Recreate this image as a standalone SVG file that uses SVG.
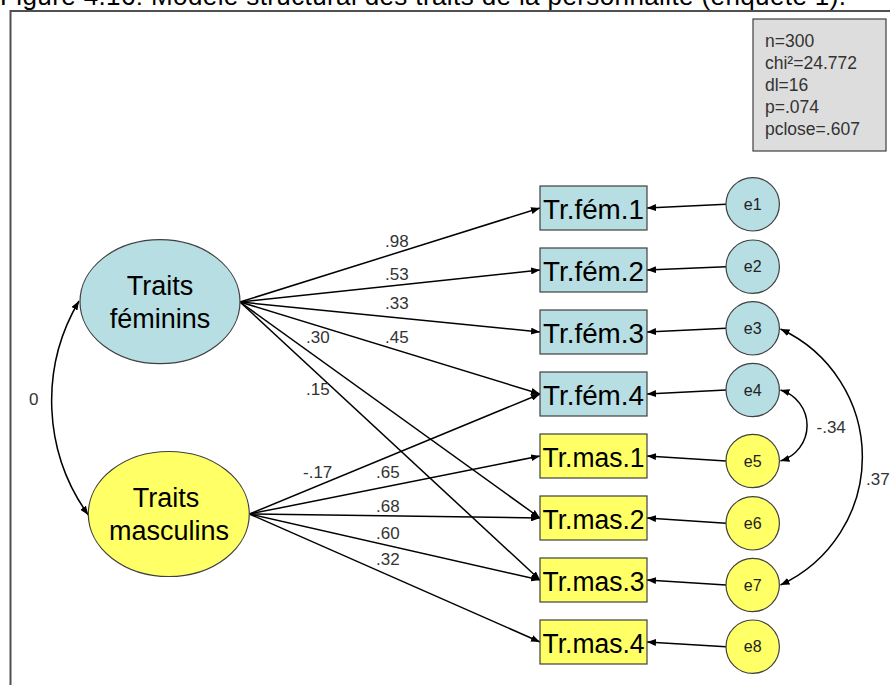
<svg xmlns="http://www.w3.org/2000/svg" width="890" height="685" viewBox="0 0 890 685">
<style>
.title{font-family:"Liberation Sans",Arial,sans-serif;font-size:26px;fill:#000}
.lbl{font-family:"Liberation Sans",Arial,sans-serif;font-size:17px;fill:#333}
.stat{font-family:"Liberation Sans",Arial,sans-serif;font-size:17.5px;fill:#333}
.big{font-family:"Liberation Sans",Arial,sans-serif;font-size:27px;fill:#000;text-anchor:middle}
.obs{font-family:"Liberation Sans",Arial,sans-serif;font-size:27px;fill:#000;text-anchor:middle}
.err{font-family:"Liberation Sans",Arial,sans-serif;font-size:16px;fill:#222;text-anchor:middle}
.fem{fill:#B7DEE2;stroke:#404040;stroke-width:1.2}
.mas{fill:#FFFF66;stroke:#404040;stroke-width:1.2}
.arr{fill:none;stroke:#000;stroke-width:1.5;marker-end:url(#ah)}
.cov{fill:none;stroke:#000;stroke-width:1.5;marker-end:url(#ah);marker-start:url(#ahs)}
</style>
<defs>
<marker id="ah" markerUnits="userSpaceOnUse" markerWidth="9" markerHeight="7" refX="9" refY="3.5" orient="auto"><path d="M0,0 L9,3.5 L0,7 z" fill="#000"/></marker>
<marker id="ahs" markerUnits="userSpaceOnUse" markerWidth="9" markerHeight="7" refX="9" refY="3.5" orient="auto-start-reverse"><path d="M0,0 L9,3.5 L0,7 z" fill="#000"/></marker>
</defs>
<rect width="890" height="685" fill="#fff"/>
<text class="title" x="0" y="5" textLength="846" lengthAdjust="spacing">Figure 4.16: Modèle structural des traits de la personnalité (enquête 1).</text>
<rect x="10.5" y="11" width="900" height="700" fill="none" stroke="#505050" stroke-width="2"/>

<g id="stats">
<rect x="753" y="19" width="133" height="132" fill="#DDDDDD" stroke="#404040" stroke-width="1.2"/>
<text class="stat" x="765" y="46.5">n=300</text>
<text class="stat" x="765" y="68.5">chi²=24.772</text>
<text class="stat" x="765" y="91">dl=16</text>
<text class="stat" x="765" y="113">p=.074</text>
<text class="stat" x="765" y="135">pclose=.607</text>
</g>

<g id="connectors">
<path class="arr" d="M240,302 L540,208"/>
<path class="arr" d="M240,302 L540,270"/>
<path class="arr" d="M240,302 L540,332"/>
<path class="arr" d="M240,302 L540,394"/>
<path class="arr" d="M240,302 L540,518"/>
<path class="arr" d="M240,302 L540,580"/>
<path class="arr" d="M249.5,514 L540,394"/>
<path class="arr" d="M249.5,514 L540,456"/>
<path class="arr" d="M249.5,514 L540,518"/>
<path class="arr" d="M249.5,514 L540,580"/>
<path class="arr" d="M249.5,514 L540,642"/>
<path class="arr" d="M726,204.3 L647,208"/>
<path class="arr" d="M726,266.7 L647,270"/>
<path class="arr" d="M726,328.3 L647,332"/>
<path class="arr" d="M726,390 L647,394"/>
<path class="arr" d="M726,461 L647,456"/>
<path class="arr" d="M726,523.3 L647,518"/>
<path class="arr" d="M726,585 L647,580"/>
<path class="arr" d="M726,646.7 L647,642"/>
<path class="cov" d="M79,301 A196,196 0 0,0 88.3,515"/>
<path class="cov" d="M780.5,390 A37,37 0 0,1 780.5,461"/>
<path class="cov" d="M780.5,329 A141,141 0 0,1 780.5,585"/>
<text class="lbl" x="385" y="246.5">.98</text>
<text class="lbl" x="385" y="280">.53</text>
<text class="lbl" x="385" y="308.5">.33</text>
<text class="lbl" x="385" y="342.5">.45</text>
<text class="lbl" x="306" y="342.5">.30</text>
<text class="lbl" x="306" y="395">.15</text>
<text class="lbl" x="303" y="477.5">-.17</text>
<text class="lbl" x="376" y="477.5">.65</text>
<text class="lbl" x="376" y="511.5">.68</text>
<text class="lbl" x="376" y="538.5">.60</text>
<text class="lbl" x="376" y="565">.32</text>
<text class="lbl" x="29" y="405">0</text>
<text class="lbl" x="816.5" y="432.5">-.34</text>
<text class="lbl" x="866" y="485">.37</text>
</g>

<g id="traits-feminins">
<ellipse class="fem" cx="160" cy="301.7" rx="80" ry="62"/>
<text class="big" x="160" y="295">Traits</text>
<text class="big" x="160" y="328.3">féminins</text>
</g>
<g id="traits-masculins">
<ellipse class="mas" cx="168.8" cy="514" rx="80.5" ry="62.5"/>
<text class="big" x="166" y="506.7">Traits</text>
<text class="big" x="169" y="540">masculins</text>
</g>

<g id="tr-fem-1"><rect class="fem" x="540" y="186" width="107" height="44"/><text class="obs" x="593.5" y="219.3" textLength="101" lengthAdjust="spacingAndGlyphs">Tr.fém.1</text></g>
<g id="tr-fem-2"><rect class="fem" x="540" y="248" width="107" height="44"/><text class="obs" x="593.5" y="281.3" textLength="101" lengthAdjust="spacingAndGlyphs">Tr.fém.2</text></g>
<g id="tr-fem-3"><rect class="fem" x="540" y="310" width="107" height="44"/><text class="obs" x="593.5" y="343.3" textLength="101" lengthAdjust="spacingAndGlyphs">Tr.fém.3</text></g>
<g id="tr-fem-4"><rect class="fem" x="540" y="372" width="107" height="44"/><text class="obs" x="593.5" y="405.3" textLength="101" lengthAdjust="spacingAndGlyphs">Tr.fém.4</text></g>
<g id="tr-mas-1"><rect class="mas" x="540" y="434" width="107" height="44"/><text class="obs" x="593.5" y="467.3" textLength="102" lengthAdjust="spacingAndGlyphs">Tr.mas.1</text></g>
<g id="tr-mas-2"><rect class="mas" x="540" y="496" width="107" height="44"/><text class="obs" x="593.5" y="529.3" textLength="102" lengthAdjust="spacingAndGlyphs">Tr.mas.2</text></g>
<g id="tr-mas-3"><rect class="mas" x="540" y="558" width="107" height="44"/><text class="obs" x="593.5" y="591.3" textLength="102" lengthAdjust="spacingAndGlyphs">Tr.mas.3</text></g>
<g id="tr-mas-4"><rect class="mas" x="540" y="620" width="107" height="44"/><text class="obs" x="593.5" y="653.3" textLength="102" lengthAdjust="spacingAndGlyphs">Tr.mas.4</text></g>

<g id="e1"><circle class="fem" cx="752.7" cy="204.3" r="26.7"/><text class="err" x="752.7" y="209.8">e1</text></g>
<g id="e2"><circle class="fem" cx="752.7" cy="266.7" r="26.7"/><text class="err" x="752.7" y="272.2">e2</text></g>
<g id="e3"><circle class="fem" cx="752.7" cy="328.3" r="26.7"/><text class="err" x="752.7" y="333.8">e3</text></g>
<g id="e4"><circle class="fem" cx="752.7" cy="390" r="26.7"/><text class="err" x="752.7" y="395.5">e4</text></g>
<g id="e5"><circle class="mas" cx="752.7" cy="461" r="26.7"/><text class="err" x="752.7" y="466.5">e5</text></g>
<g id="e6"><circle class="mas" cx="752.7" cy="523.3" r="26.7"/><text class="err" x="752.7" y="528.8">e6</text></g>
<g id="e7"><circle class="mas" cx="752.7" cy="585" r="26.7"/><text class="err" x="752.7" y="590.5">e7</text></g>
<g id="e8"><circle class="mas" cx="752.7" cy="646.7" r="26.7"/><text class="err" x="752.7" y="652.2">e8</text></g>
</svg>
